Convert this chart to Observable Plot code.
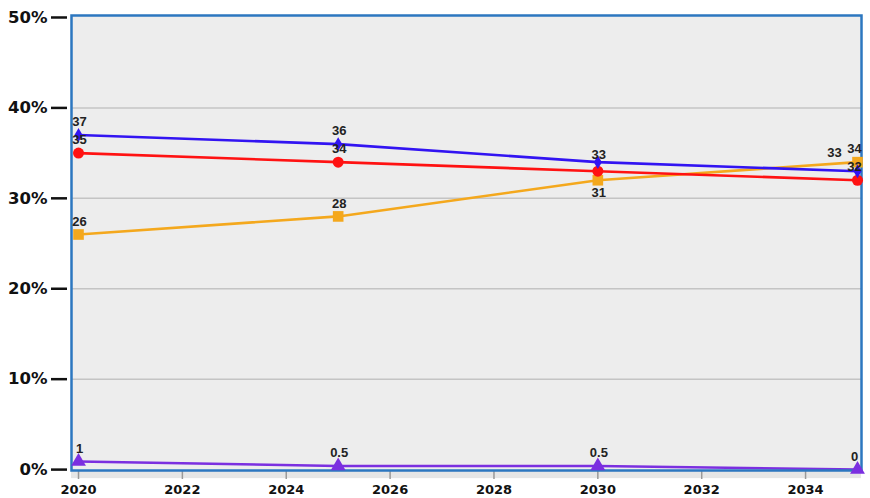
<!DOCTYPE html>
<html><head><meta charset="utf-8">
<script src="https://cdn.jsdelivr.net/npm/d3@7"></script>
<script src="https://cdn.jsdelivr.net/npm/@observablehq/plot@0.6"></script>
<style>body{margin:0;background:#fff}#chart svg{display:block}</style>
</head><body><div id="chart"></div>
<script>
const years = [2020, 2025, 2030, 2035];
const blueValues = [37, 36, 34, 33];
const redValues = [35, 34, 33, 32];
const orangeValues = [26, 28, 32, 34];
const purpleValues = [0.9, 0.4, 0.4, 0];
const blueLabels = ["37", "36", "33", "33"];
const redLabels = ["35", "34", "", "32"];
const orangeLabels = ["26", "28", "31", "34"];
const purpleLabels = ["1", "0.5", "0.5", "0"];
const yTicks = [0, 10, 20, 30, 40, 50];
const xTicks = [2020, 2022, 2024, 2026, 2028, 2030, 2032, 2034];

const seriesDefs = [
  {name: "purple", values: purpleValues, labels: purpleLabels, color: "#7b2fe0", symbol: "triangle", r: 5.5},
  {name: "orange", values: orangeValues, labels: orangeLabels, color: "#f4a81d", symbol: "square", r: 6},
  {name: "red", values: redValues, labels: redLabels, color: "#ff1212", symbol: "circle", r: 5.5},
  {name: "blue", values: blueValues, labels: blueLabels, color: "#3214f2", symbol: "diamond", r: 4.2}
];
const rows = seriesDefs.flatMap(s => years.map((y, i) => ({series: s.name, year: y, value: s.values[i], label: s.labels[i], color: s.color, symbol: s.symbol, r: s.r})));

// label offsets (styling only)
function ldx(d) {
  if (d.series === "blue" && d.year === 2035) return -23;
  if (d.year === 2035) return -3;
  return 1;
}
function ldy(d) {
  if (d.series === "blue" && d.year === 2030) return -7;
  if (d.series === "blue" && d.year === 2035) return -18;
  if (d.series === "orange" && d.year === 2030) return 13;
  return -13;
}

const xDomain = [2019.865, 2035.077];
const marks = [
  Plot.frame({fill: "#ededed", stroke: null}),
  Plot.rect([0], {x1: xDomain[0], x2: xDomain[1], y1: -0.1, y2: -1.0, fill: "#e6e6e6", clip: false}),
  Plot.ruleY(yTicks.filter(t => t > 0 && t < 50), {stroke: "#c4c4c4", strokeWidth: 1.5}),
  Plot.axisY({ticks: yTicks, tickFormat: d => d + "%", tickSize: 16, tickPadding: 4, dx: -4, strokeWidth: 2.5, stroke: "#111",
    fontSize: 16.5, fontWeight: 700, fill: "#111", label: null}),
  Plot.axisX({ticks: xTicks, tickFormat: d => String(d), tickSize: 9, tickPadding: 5, stroke: "#999", strokeWidth: 1.5,
    fontSize: 13, fontWeight: 700, fill: "#111", label: null}),
];
for (const s of seriesDefs) {
  const data = rows.filter(d => d.series === s.name);
  marks.push(Plot.line(data, {x: "year", y: "value", stroke: s.color, strokeWidth: 2.6}));
}
marks.push(Plot.frame({stroke: "#2c77c0", strokeWidth: 2.5}));
for (const s of seriesDefs) {
  const data = rows.filter(d => d.series === s.name);
  marks.push(Plot.dot(data, {x: "year", y: "value", fill: s.color, stroke: null, symbol: s.symbol, r: s.r}));
}
for (const d of rows.filter(d => d.label !== "")) {
  marks.push(Plot.text([d], {x: "year", y: "value", text: "label", dx: ldx(d), dy: ldy(d),
    fontSize: 13, fontWeight: 700, fill: "#222"}));
}

const chart = Plot.plot({
  width: 870,
  height: 498,
  marginLeft: 71,
  marginRight: 9,
  marginTop: 15,
  marginBottom: 28,
  style: {fontFamily: "'Liberation Sans', Arial, sans-serif", background: "#fff"},
  x: {domain: xDomain},
  y: {domain: [-0.1, 50.22]},
  marks
});
chart.querySelectorAll("[aria-label='y-axis tick label'], [aria-label='x-axis tick label']").forEach(g => g.setAttribute("font-family", "'DejaVu Sans', sans-serif"));
document.getElementById("chart").appendChild(chart);
</script>
</body></html>
